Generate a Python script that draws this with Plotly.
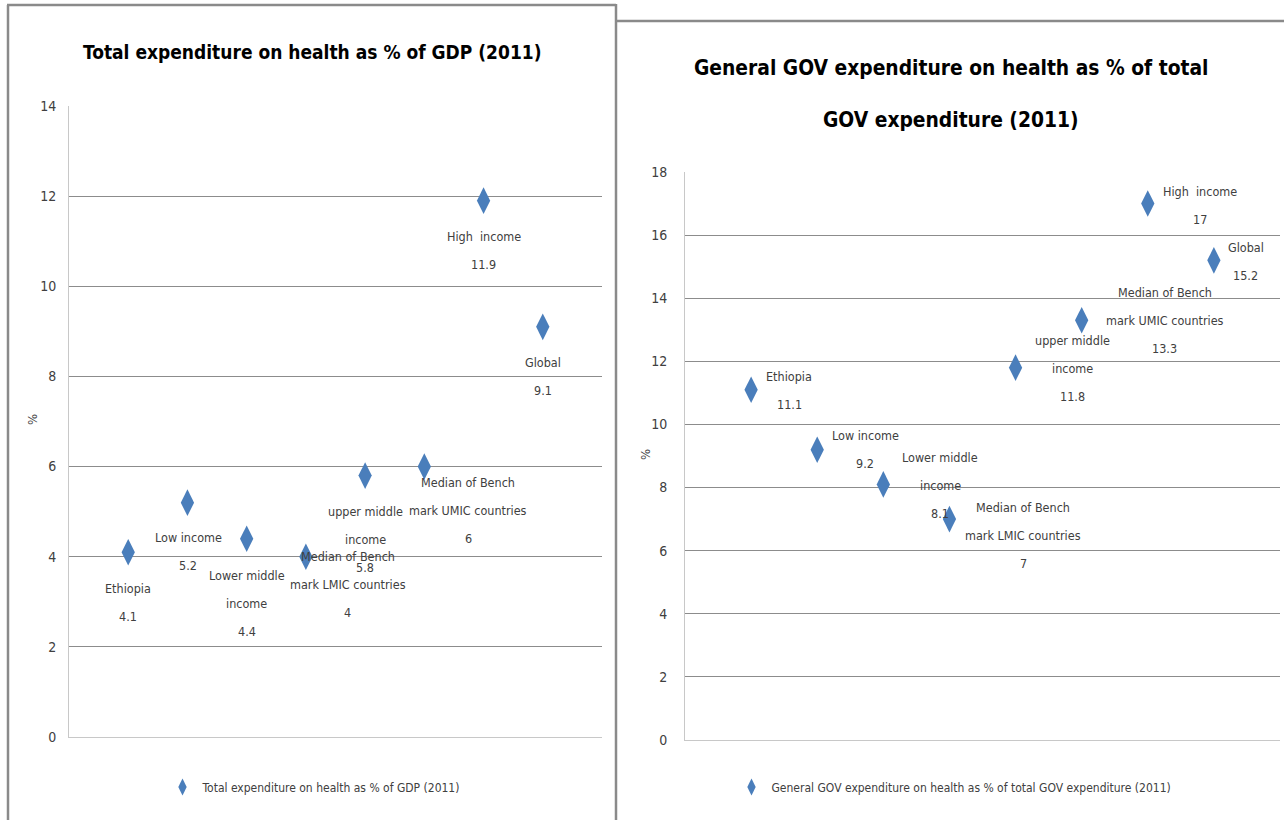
import plotly.graph_objects as go

# ---- data -------------------------------------------------------------
categories = [
    "Ethiopia", "Low income", "Lower middle income",
    "Median of Bench mark LMIC countries", "upper middle income",
    "Median of Bench mark UMIC countries", "High income", "Global",
]
# how each category name wraps inside its data label, per chart
gdp_name_lines = [
    ["Ethiopia"], ["Low income"], ["Lower middle", "income"],
    ["Median of Bench", "mark LMIC countries"], ["upper middle", "income"],
    ["Median of Bench", "mark UMIC countries"], ["High  income"], ["Global"],
]
gov_name_lines = [
    ["Ethiopia"], ["Low income"], ["Lower middle", "income"],
    ["Median of Bench", "mark LMIC countries"], ["upper middle", "income"],
    ["Median of Bench", "mark UMIC countries"], ["High  income"], ["Global"],
]
gdp_values = [4.1, 5.2, 4.4, 4, 5.8, 6, 11.9, 9.1]
gov_values = [11.1, 9.2, 8.1, 7, 11.8, 13.3, 17, 15.2]

gdp_title = "Total expenditure on health as % of GDP (2011)"
gov_title_lines = ["General GOV expenditure on health as % of total",
                   "GOV expenditure (2011)"]
gov_series = "General GOV expenditure on health as % of total GOV expenditure (2011)"

gdp_ticks = [0, 2, 4, 6, 8, 10, 12, 14]
gov_ticks = [0, 2, 4, 6, 8, 10, 12, 14, 16, 18]

# ---- styling ----------------------------------------------------------
W, H = 1284, 820
FONT = "Liberation Sans Narrow, Arial Narrow, DejaVu Sans Condensed, sans-serif"
BLUE = "#4A7EBB"
TXT = "#404040"
GRID = "#8C8C8C"
AXIS = "#C8C8C8"
BORDER = "#8A8A8A"
LINE_GAP = 28  # vertical spacing between lines of a data label

# label block offsets from each marker (dx right, dy down), in pixels
gdp_label_offsets = [(0, 50), (1, 49), (0, 65), (42, 28), (0, 64), (44, 44), (0, 50), (0, 50)]
gov_label_offsets = [(38, 1), (48, 0), (57, 1), (74, 16), (57, 1), (83, 0), (52, 2), (32, 1)]


def px(x):
    return x / W


def py(y):
    return 1 - y / H


xs = list(range(1, len(categories) + 1))

fig = go.Figure()
fig.add_trace(go.Scatter(
    x=xs, y=gdp_values, mode="markers", name=gdp_title,
    text=categories, xaxis="x", yaxis="y", legend="legend",
    marker=dict(symbol="diamond-tall", size=19, color=BLUE),
))
fig.add_trace(go.Scatter(
    x=xs, y=gov_values, mode="markers", name=gov_series,
    text=categories, xaxis="x2", yaxis="y2", legend="legend2",
    marker=dict(symbol="diamond-tall", size=19, color=BLUE),
))

annotations = []


def add_labels(values, name_lines, offsets, xref, yref):
    for x, v, names, (dx, dy) in zip(xs, values, name_lines, offsets):
        lines = names + [f"{v:g}"]
        n = len(lines)
        for i, line in enumerate(lines):
            annotations.append(dict(
                x=x, y=v, xref=xref, yref=yref, text=line, showarrow=False,
                xanchor="center", yanchor="middle",
                xshift=dx, yshift=-(dy + (i - (n - 1) / 2) * LINE_GAP),
                font=dict(family=FONT, size=12.5, color=TXT),
            ))


add_labels(gdp_values, gdp_name_lines, gdp_label_offsets, "x", "y")
add_labels(gov_values, gov_name_lines, gov_label_offsets, "x2", "y2")

# chart titles
annotations.append(dict(
    x=px(312), y=py(52), xref="paper", yref="paper", text=f"<b>{gdp_title}</b>",
    showarrow=False, xanchor="center", yanchor="middle",
    font=dict(family=FONT, size=19, color="#000000"),
))
for i, line in enumerate(gov_title_lines):
    annotations.append(dict(
        x=px(951), y=py(68 + 52 * i), xref="paper", yref="paper",
        text=f"<b>{line}</b>", showarrow=False, xanchor="center", yanchor="middle",
        font=dict(family=FONT, size=20.8, color="#000000"),
    ))

# y-axis titles
for xp, yp in [(32, 420), (645, 455)]:
    annotations.append(dict(
        x=px(xp), y=py(yp), xref="paper", yref="paper", text="%",
        showarrow=False, textangle=-90, xanchor="center", yanchor="middle",
        font=dict(family=FONT, size=13, color=TXT),
    ))

# panel frames
shapes = []


def frame_line(x0, y0, x1, y1):
    shapes.append(dict(type="line", xref="paper", yref="paper",
                       x0=px(x0), y0=py(y0), x1=px(x1), y1=py(y1),
                       line=dict(color=BORDER, width=2.5)))


frame_line(8, 5, 8, 830)
frame_line(7, 5, 616, 5)
frame_line(616, 4, 616, 830)
frame_line(617, 21, 1290, 21)

axis_common = dict(
    showgrid=False, zeroline=False, showticklabels=False, automargin=False,
    showline=True, linecolor=AXIS, linewidth=1, range=[0, 9], fixedrange=True,
)
yaxis_common = dict(
    showgrid=True, gridcolor=GRID, gridwidth=1, zeroline=False, automargin=False,
    showline=True, linecolor=AXIS, linewidth=1,
    tickfont=dict(family=FONT, size=14, color=TXT), ticks="",
)

legend_common = dict(
    xanchor="center", yanchor="middle", orientation="h",
    bgcolor="rgba(0,0,0,0)", itemsizing="constant", itemwidth=30,
    font=dict(family=FONT, size=12, color=TXT),
)

fig.update_layout(
    width=W, height=H,
    margin=dict(l=0, r=0, t=0, b=0, autoexpand=False),
    paper_bgcolor="white", plot_bgcolor="white",
    showlegend=True,
    xaxis=dict(domain=[px(69), px(602)], anchor="y", **axis_common),
    yaxis=dict(domain=[py(737), py(106)], anchor="x", range=[0, 14],
               tickvals=gdp_ticks, ticklabelstandoff=9, **yaxis_common),
    xaxis2=dict(domain=[px(685), px(1280)], anchor="y2", **axis_common),
    yaxis2=dict(domain=[py(740), py(172)], anchor="x2", range=[0, 18],
                tickvals=gov_ticks, ticklabelstandoff=14, **yaxis_common),
    legend=dict(x=px(314), y=py(787), **legend_common),
    legend2=dict(x=px(954), y=py(787), **legend_common),
    annotations=annotations,
    shapes=shapes,
)

fig.write_html("out.html")
